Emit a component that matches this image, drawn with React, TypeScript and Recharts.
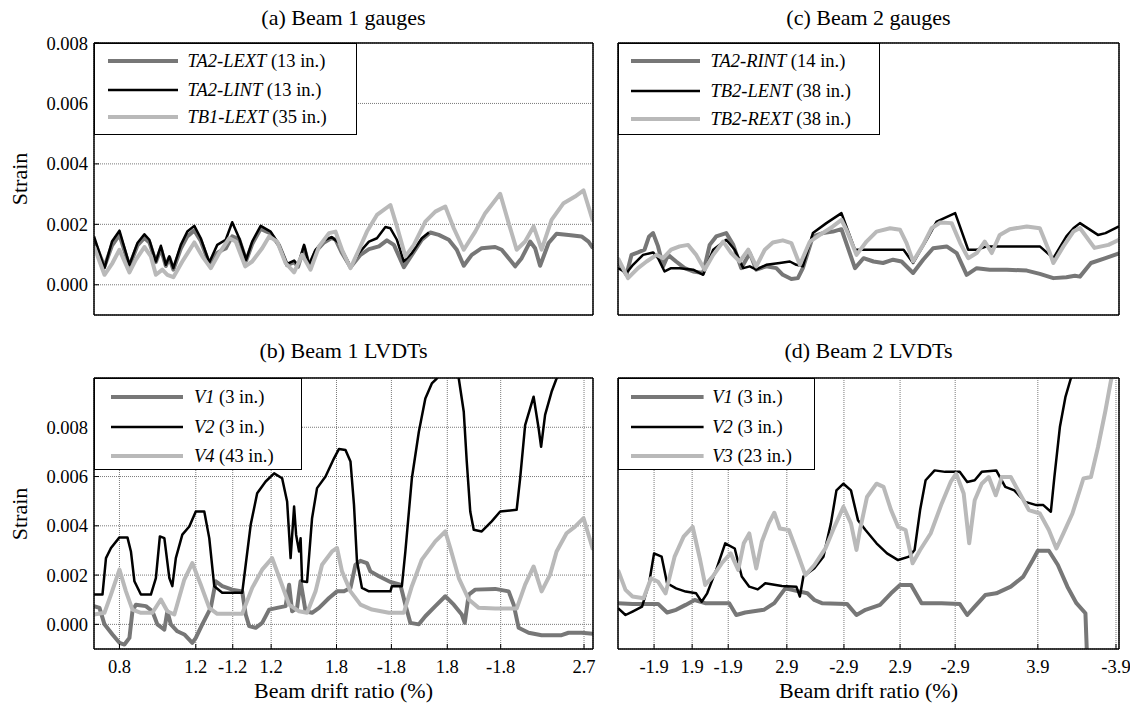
import React from 'react';
import { LineChart, Line, XAxis, YAxis, CartesianGrid } from 'recharts';

const FONT = "'Liberation Serif', 'Times New Roman', Times, serif";

// ---------- x axis: position along the loading record (0-100 %) ----------
const LEFT_X_TICKS = [5.1, 20.4, 27.8, 35.5, 48.6, 59.6, 70.8, 81.5, 98.2];
const LEFT_X_LABELS = ['0.8', '1.2', '-1.2', '1.2', '1.8', '-1.8', '1.8', '-1.8', '2.7'];
const RIGHT_X_TICKS = [7.2, 14.8, 22.0, 33.7, 45.1, 56.3, 67.3, 83.8, 99.4];
const RIGHT_X_LABELS = ['-1.9', '1.9', '-1.9', '2.9', '-2.9', '2.9', '-2.9', '3.9', '-3.9'];

// ---------- y axis (values in millistrain, labelled as strain) ----------
const GAUGE_Y_DOMAIN: [number, number] = [-1, 8];
const LVDT_Y_DOMAIN: [number, number] = [-1, 10];
const Y_TICKS = [0, 2, 4, 6, 8];

type Pt = [number, number];

// ---------- (a) Beam 1 gauges ----------
const A_TA2_LEXT: Pt[] = [[0,1.45],[2.1,0.6],[3.6,1.3],[5.1,1.65],[7.1,0.62],[8.7,1.3],[10.1,1.55],[11.1,1.4],[12.4,0.75],[13.4,1.2],[14.4,0.62],[15.1,0.9],[15.9,0.5],[17.4,1.2],[18.7,1.6],[20.1,1.8],[21.4,1.45],[23.1,0.7],[24.7,1.05],[25.7,1.15],[26.4,1.2],[27.7,1.6],[29.1,1.5],[30.5,0.8],[31.7,1.35],[33.4,1.85],[35.4,1.7],[37.1,1.3],[38.7,0.65],[40.1,0.75],[40.9,0.6],[42.1,1.25],[43.1,0.62],[44.4,1.1],[46.1,1.4],[47.6,1.55],[48.4,1.49],[49.7,1.05],[51.4,0.58],[53.4,0.99],[55.1,1.18],[57.1,1.27],[58.7,1.47],[60.1,1.32],[62.1,0.58],[63.7,0.99],[65.7,1.49],[67.4,1.73],[69.1,1.65],[71.1,1.49],[72.7,1.16],[74.1,0.63],[75.7,0.99],[77.7,1.21],[80.4,1.25],[81.7,1.16],[83.1,0.88],[84.4,0.61],[85.7,0.88],[87.4,1.43],[88.4,1.21],[89.4,0.63],[91.1,1.38],[92.7,1.69],[95.1,1.65],[97.7,1.6],[99.1,1.43],[100,1.21]];
const A_TA2_LINT: Pt[] = [[0,1.6],[2.1,0.55],[3.6,1.43],[5.1,1.79],[7.1,0.66],[8.7,1.38],[10.1,1.67],[11.1,1.49],[12.4,0.77],[13.4,1.29],[14.4,0.66],[15.1,0.94],[15.9,0.55],[17.4,1.32],[18.7,1.76],[20.1,1.95],[21.4,1.54],[23.1,0.74],[24.7,1.32],[26.4,1.49],[27.7,2.07],[29.1,1.54],[30.5,0.83],[31.7,1.43],[33.4,1.95],[35.4,1.76],[37.1,1.32],[38.7,0.69],[40.1,0.8],[40.9,0.63],[42.1,1.32],[43.1,0.66],[44.4,1.16],[46.1,1.47],[47.6,1.58],[49.1,1.38],[49.7,1.16],[51.4,0.61],[53.1,1.05],[55.1,1.43],[56.7,1.54],[58.4,1.91],[59.4,1.87],[60.7,1.49],[62.1,0.77],[63.7,1.05],[65.7,1.54],[67.1,1.73]];
const A_TB1_LEXT: Pt[] = [[0,1.27],[2.1,0.33],[3.7,0.72],[5.1,1.16],[7.1,0.41],[8.4,0.83],[10.1,1.25],[11.4,0.94],[12.4,0.33],[13.7,0.5],[14.7,0.33],[15.9,0.25],[17.7,0.77],[20.1,1.4],[21.7,0.94],[23.4,0.55],[25.1,1.05],[27.1,1.54],[28.4,1.43],[30.3,0.61],[31.7,0.77],[33.7,1.21],[35.1,1.6],[36.7,1.43],[38.4,0.72],[40.1,0.41],[41.7,0.99],[43.4,0.5],[45.1,1.27],[47.1,1.71],[48.4,1.76],[49.7,1.16],[51.4,0.55],[53.1,1.16],[54.7,1.76],[56.7,2.31],[59.4,2.64],[60.7,1.93],[62.4,0.94],[64.1,1.32],[66.4,2.09],[68.4,2.42],[70.4,2.59],[72.1,1.87],[74.1,1.16],[76.4,1.76],[78.4,2.37],[81.4,3.01],[83.1,2.04],[84.7,1.16],[86.4,1.43],[88.1,1.93],[89.7,1.16],[91.7,2.15],[94.1,2.7],[96.4,2.92],[98.1,3.12],[100,2.1]];

// ---------- (c) Beam 2 gauges ----------
const C_TA2_RINT: Pt[] = [[0,0.77],[1.7,0.33],[2.7,0.99],[4,1.07],[5.3,1.16],[6.2,1.6],[7,1.71],[8,1.27],[9,0.61],[10,0.99],[11.6,0.77],[13.3,0.55],[15,0.44],[17,0.39],[18.3,1.32],[19.6,1.6],[21.6,1.71],[23,1.32],[24.6,0.55],[26.3,1.05],[27.6,0.5],[29.6,0.61],[31.6,0.55],[32.9,0.33],[34.6,0.19],[35.9,0.22],[36.9,0.55],[38.9,1.6],[40.9,1.71],[42.9,1.76],[44.6,1.84],[47.3,0.55],[49,0.88],[51,0.77],[52.9,0.72],[54.9,0.83],[56.6,0.77],[58.9,0.39],[60.9,0.83],[62.9,1.21],[65.6,1.27],[67.6,1.05],[69.6,0.33],[71.6,0.55],[74.2,0.5],[77.6,0.5],[81.6,0.47],[84.2,0.36],[86.9,0.22],[89.5,0.25],[91.2,0.3],[92.2,0.27],[94.4,0.72],[97.3,0.88],[100,1.04]];
const C_TB2_LENT: Pt[] = [[0,0.55],[1.7,0.39],[3,0.66],[5,0.99],[7,1.07],[8,0.88],[9.3,0.44],[10.6,0.55],[12.3,0.55],[15,0.5],[17,0.33],[19,1.16],[21.6,1.49],[23.3,1.16],[25,0.55],[26.3,0.61],[27.6,0.5],[29.6,0.66],[32.3,0.72],[34.3,0.77],[35.6,0.66],[36.9,0.61],[38.9,1.71],[41.6,2.04],[44.6,2.37],[47.3,1.16],[49,1.16],[57,1.16],[58.9,0.72],[61.6,1.49],[63.6,2.09],[67.3,2.37],[69.9,1.16],[71.6,1.16],[73.6,1.27],[84.2,1.27],[86.9,0.88],[89.5,1.6],[90.9,1.87],[92.2,2.04],[95.8,1.65],[97.3,1.71],[100,1.93]];
const C_TB2_REXT: Pt[] = [[0,0.88],[2,0.22],[4,0.55],[5.7,0.77],[7.7,0.99],[9,0.88],[10.6,1.16],[12.3,1.27],[14,1.32],[15.6,0.99],[17.3,0.5],[19,0.99],[21,1.43],[22.6,1.05],[24.3,0.77],[26,1.16],[27.6,0.61],[29.3,1.16],[30.9,1.4],[32.9,1.47],[34.6,1.38],[36.3,0.66],[38.3,1.43],[40.3,1.65],[42.9,1.93],[44.6,2.15],[45.6,1.82],[47.6,0.99],[49.6,1.43],[51.6,1.76],[54.3,1.87],[56.3,1.82],[57.6,1.38],[58.9,0.77],[60.9,1.32],[62.6,1.87],[64.3,2.06],[66.6,2.04],[68.3,1.38],[69.9,0.88],[71.6,1.05],[73.2,1.43],[74.6,1.05],[76.2,1.65],[78.2,1.84],[81.6,1.93],[84.2,1.87],[86.2,1.05],[86.9,0.72],[88.9,1.27],[90.9,1.76],[92.2,1.88],[95.1,1.22],[97.9,1.32],[100,1.49]];

// ---------- (b) Beam 1 LVDTs ----------
const B_V1: Pt[] = [[0,0.74],[1.1,0.67],[2.1,0],[3.7,-0.41],[5.1,-0.75],[6.1,-0.82],[7.1,-0.55],[7.7,0.53],[8.4,0.8],[10.4,0.74],[11.7,0.53],[12.7,0],[14.1,-0.21],[14.7,0.53],[15.4,0],[16.7,-0.28],[18.1,-0.41],[19.7,-0.75],[20.4,-0.55],[21.7,0],[23.4,0.67],[24.4,1.75],[25.7,1.55],[27.7,1.41],[29.7,1.34],[30.4,0.4],[31.1,-0.07],[32.4,-0.14],[33.7,0.06],[35.1,0.6],[36.7,0.67],[38.4,0.74],[39.1,1.61],[39.7,0.53],[40.7,0.67],[41.4,1.75],[42.4,0.53],[43.7,0.47],[45.1,0.67],[47.1,1.07],[48.7,1.34],[50.1,1.34],[51.4,1.48],[52.4,2.42],[53.4,2.58],[54.7,2.49],[55.4,2.15],[57.1,1.95],[59.4,1.72],[61.4,1.61],[62.4,0.8],[63.4,0.06],[65.1,0],[66.4,0.33],[68.4,0.74],[70.4,1.14],[72.1,0.8],[73.7,0.4],[74.3,0.06],[75.1,1.21],[76.4,1.41],[80.4,1.44],[83.1,1.34],[84.1,0.8],[85.1,-0.14],[87.1,-0.34],[89.7,-0.44],[93.7,-0.44],[95.1,-0.34],[97.7,-0.34],[100,-0.38]];
const B_V2: Pt[] = [[0,1.21],[1.7,1.21],[2.4,2.69],[3.4,3.1],[5.1,3.53],[6.7,3.53],[7.4,2.96],[8.1,1.75],[9.4,1.21],[11.4,1.21],[12.4,1.88],[13.2,3.57],[14.1,3.5],[15.1,1.88],[15.7,1.55],[16.4,2.69],[17.7,3.64],[19.1,3.97],[20.4,4.58],[22.1,4.58],[23.1,3.5],[24.1,1.55],[25.7,1.28],[29.7,1.28],[30.4,2.42],[31.4,4.04],[32.7,5.32],[34.4,5.8],[36.1,6.13],[37.7,5.93],[38.7,4.99],[39.4,2.69],[40.1,4.78],[40.5,3.64],[41.1,2.96],[41.4,3.5],[41.7,1.75],[42.7,1.72],[43.7,4.31],[44.7,5.53],[46.4,6],[48.1,6.74],[49.1,7.12],[50.4,7.08],[51.4,6.61],[52.1,4.86],[52.7,2.56],[53.7,1.48],[55.1,1.34],[59.4,1.34],[59.7,1.55],[61.7,1.55],[62.4,2.96],[63.7,5.93],[65.1,7.82],[66.4,9.17],[67.7,9.78],[68.7,9.98],[69.5,10.6],[72.5,10.6],[73.1,9.98],[74.1,8.63],[74.7,6.61],[75.4,4.58],[76.1,3.84],[77.7,3.77],[79.7,4.18],[81.4,4.58],[84.7,4.65],[85.4,5.93],[86.4,8.09],[88.1,9.24],[89.1,7.96],[89.6,7.21],[90.4,8.5],[91.7,9.44],[92.7,9.98],[94,10.8]];
const B_V4: Pt[] = [[0,0.4],[2.1,0.47],[3.4,1.21],[5.1,2.22],[6.4,1.34],[7.7,0.6],[9.4,0.47],[11.7,0.47],[13.4,1.01],[14.7,0.53],[16.1,0.4],[18.1,1.82],[19.7,2.49],[21.4,1.61],[23.1,0.67],[24.7,0.43],[29.7,0.43],[31.7,1.48],[33.7,2.22],[35.7,2.69],[37.4,1.75],[39.1,0.8],[41.1,0.53],[42.7,0.47],[44.4,1.34],[45.7,2.42],[47.7,2.96],[48.7,3.1],[49.7,2.15],[51.4,1.34],[53.4,0.8],[55.7,0.6],[59.1,0.47],[62.1,0.47],[63.7,1.55],[65.7,2.63],[68.4,3.37],[70.4,3.77],[71.4,3.1],[73.1,1.88],[75.1,1.01],[77.1,0.67],[80.4,0.64],[84.7,0.64],[86.4,1.61],[88.1,2.35],[89.7,1.34],[91.4,2.02],[92.7,2.96],[94.7,3.7],[96.4,3.97],[98.1,4.31],[100,3.03]];

// ---------- (d) Beam 2 LVDTs ----------
const D_V1: Pt[] = [[0,0.86],[2.9,0.83],[8,0.83],[9.8,0.48],[11.6,0.59],[13.5,0.79],[15.3,0.99],[17.4,0.86],[22.2,0.86],[23.6,0.38],[25.4,0.48],[29.1,0.59],[31.2,0.86],[33.4,1.46],[35.6,1.36],[37.8,1.26],[39.2,0.99],[40.7,0.86],[45.7,0.83],[47.6,0.38],[49.4,0.59],[52.3,0.79],[54.5,1.26],[56.3,1.6],[58.5,1.6],[60.6,0.86],[64.6,0.86],[68.2,0.83],[69.7,0.38],[71.2,0.72],[73.3,1.19],[75.5,1.26],[78.4,1.53],[80.9,1.94],[82.8,2.61],[83.8,2.99],[86,2.99],[87.8,2.41],[89.7,1.53],[91.5,0.86],[93.3,0.45],[93.6,-1.2]];
const D_V2: Pt[] = [[0,0.66],[1.5,0.38],[2.9,0.52],[4.8,0.72],[6.2,1.67],[7.2,2.88],[8.7,2.75],[9.8,1.67],[11.6,1.46],[13.5,1.33],[15.6,1.26],[16.7,0.92],[17.8,1.26],[19.6,2.21],[21.4,3.29],[23.3,3.08],[24.7,1.94],[26.2,1.53],[27.9,1.42],[29.4,1.67],[32.7,1.56],[35.6,1.53],[36.3,1.13],[37,1.94],[39.2,2.28],[41,2.75],[42.5,4.1],[43.6,5.44],[45,5.71],[46.5,5.44],[47.9,4.23],[49.4,3.83],[51.6,3.29],[53.7,2.88],[55.9,2.61],[58.1,2.75],[59.2,3.02],[60.3,4.64],[61.4,5.85],[63.2,6.25],[65.3,6.19],[68.2,6.19],[69.7,5.78],[71.2,5.85],[72.6,6.19],[75.5,6.25],[77.3,5.58],[79.1,5.44],[81.3,4.97],[83.5,4.84],[84.9,4.84],[86.4,4.57],[87.1,5.98],[88.2,8.01],[89.3,9.22],[90.4,9.99],[91.5,11]];
const D_V3: Pt[] = [[0,2.21],[1.5,1.4],[2.9,1.13],[5.1,1.06],[6.6,1.87],[8,1.73],[9.5,1.26],[11.3,2.75],[13.1,3.56],[14.9,3.96],[16.4,2.61],[17.4,1.6],[18.9,1.94],[20.7,2.48],[22.5,2.88],[24,2.21],[25.1,3.29],[26.2,3.69],[27.6,2.27],[28.7,3.35],[30.1,4.1],[31.2,4.53],[32.3,3.89],[34.1,3.83],[35.6,3.02],[37.4,2],[39.2,2.41],[41.4,3.08],[43.2,3.96],[45,4.77],[46.5,4.1],[47.6,3.02],[48.3,3.83],[49.7,5.17],[51.6,5.71],[53,5.58],[54.5,4.64],[55.9,3.96],[57.4,3.83],[58.8,2.48],[60.3,3.02],[62.4,3.69],[64.6,4.9],[66.4,5.78],[67.5,6.12],[69,5.31],[70.1,3.29],[71.2,5.04],[72.6,5.71],[74,5.98],[75.4,5.24],[76.6,5.98],[78.4,5.98],[80.2,5.31],[82,4.64],[84.2,4.5],[86,3.83],[87.5,3.08],[88.9,3.69],[90.7,4.5],[92.9,5.92],[94.4,5.98],[95.8,7.19],[97.3,8.68],[98.4,9.9],[99.5,10.8]];

// ---------- styling ----------
const DARK = '#777777';
const BLACK = '#000000';
const LIGHT = '#b9b9b9';

type Series = { name: string; note: string; color: string; width: number; pts: Pt[] };
type Rect = { x: number; y: number; w: number; h: number };
type Plot = { l: number; t: number; r: number; b: number };
type LegendGeom = { w: number; x1: number; x2: number; tx: number; rows: number[] };

const toData = (pts: Pt[]) => pts.map(([x, y]) => ({ x, y }));
const fmtY = (v: number) => (v / 1000).toFixed(3);

const TICK_FS = 18.5;
const LEG_FS = 18.5;
const TITLE_FS = 22;
const tickStyle = { fontSize: TICK_FS, fill: '#000', fontFamily: FONT };
const axisLineStyle = { stroke: '#000', strokeWidth: 1.5 };
const tickLineStyle = { stroke: '#000', strokeWidth: 1 };

function LegendBox({ plot, geom, series }: { plot: Plot; geom: LegendGeom; series: Series[] }) {
  const h = 92;
  return (
    <div style={{ position: 'absolute', left: plot.l, top: plot.t, width: geom.w, height: h, border: '1.5px solid #000', boxSizing: 'border-box', background: '#fff' }}>
      <svg width={geom.w} height={h} style={{ position: 'absolute', left: -1.5, top: -1.5, overflow: 'visible' }}>
        {series.map((s, i) => (
          <line key={s.name} x1={geom.x1} x2={geom.x2} y1={geom.rows[i]} y2={geom.rows[i]} stroke={s.color} strokeWidth={s.width} />
        ))}
      </svg>
      {series.map((s, i) => (
        <div key={s.name} style={{ position: 'absolute', left: geom.tx - 1.5, top: geom.rows[i] + 1 - 0.5065 * LEG_FS - 1.5, fontSize: LEG_FS, lineHeight: 1, whiteSpace: 'nowrap', fontFamily: FONT, color: '#000' }}>
          <i>{s.name}</i>{' '}{s.note}
        </div>
      ))}
    </div>
  );
}

function Panel(props: {
  chart: Rect; plot: Plot; yDomain: [number, number]; yLabels: boolean;
  xTicks: number[]; xLabels: string[]; showXLabels: boolean; series: Series[];
  legend: LegendGeom; title: string; titleTop: number;
}) {
  const { chart, plot, yDomain, yLabels, xTicks, xLabels, showXLabels, series, legend, title, titleTop } = props;
  const leftW = yLabels ? 60 : 10;
  const bottomH = 20;
  const margin = {
    left: plot.l - chart.x - leftW,
    right: chart.x + chart.w - plot.r - 1,
    top: plot.t - chart.y - 1,
    bottom: chart.y + chart.h - plot.b - bottomH,
  };
  const cx = (plot.l + plot.r) / 2;
  return (
    <>
      <div style={{ position: 'absolute', left: chart.x, top: chart.y, width: chart.w, height: chart.h }}>
        <LineChart width={chart.w} height={chart.h} margin={margin} style={{ fontFamily: FONT }}>
          <CartesianGrid stroke="#7a7a7a" strokeDasharray="1 1" strokeWidth={1} />
          <XAxis dataKey="x" type="number" domain={[0, 100]} ticks={xTicks} interval={0} allowDataOverflow
            height={bottomH} orientation="bottom" tickSize={-5} tickMargin={16}
            tick={showXLabels ? tickStyle : false}
            tickFormatter={(v: number) => xLabels[xTicks.indexOf(v)] ?? ''}
            axisLine={axisLineStyle} tickLine={tickLineStyle} />
          <XAxis xAxisId="top" dataKey="x" type="number" domain={[0, 100]} ticks={xTicks} interval={0} allowDataOverflow
            height={1} orientation="top" tickSize={-5} tick={false} axisLine={axisLineStyle} tickLine={tickLineStyle} />
          <YAxis type="number" domain={yDomain} ticks={Y_TICKS} interval={0} allowDataOverflow width={leftW}
            orientation="left" tickSize={-5} tickMargin={11}
            tick={yLabels ? tickStyle : false} tickFormatter={fmtY}
            axisLine={axisLineStyle} tickLine={tickLineStyle} />
          <YAxis yAxisId="right" type="number" domain={yDomain} ticks={Y_TICKS} interval={0} allowDataOverflow width={1}
            orientation="right" tickSize={-5} tick={false} axisLine={axisLineStyle} tickLine={tickLineStyle} />
          {series.map((s) => (
            <Line key={s.name} data={toData(s.pts)} dataKey="y" type="linear" stroke={s.color} strokeWidth={s.width}
              dot={false} activeDot={false} isAnimationActive={false} strokeLinejoin="round" strokeLinecap="butt" />
          ))}
        </LineChart>
      </div>
      <LegendBox plot={plot} geom={legend} series={series} />
      <div style={{ position: 'absolute', left: cx - 200, width: 400, top: titleTop, textAlign: 'center', fontSize: TITLE_FS, lineHeight: 1, fontFamily: FONT, color: '#000' }}>
        {title}
      </div>
    </>
  );
}

const SERIES_A: Series[] = [
  { name: 'TA2-LEXT', note: '(13 in.)', color: DARK, width: 4, pts: A_TA2_LEXT },
  { name: 'TA2-LINT', note: '(13 in.)', color: BLACK, width: 2.5, pts: A_TA2_LINT },
  { name: 'TB1-LEXT', note: '(35 in.)', color: LIGHT, width: 4, pts: A_TB1_LEXT },
];
const SERIES_C: Series[] = [
  { name: 'TA2-RINT', note: '(14 in.)', color: DARK, width: 4, pts: C_TA2_RINT },
  { name: 'TB2-LENT', note: '(38 in.)', color: BLACK, width: 2.5, pts: C_TB2_LENT },
  { name: 'TB2-REXT', note: '(38 in.)', color: LIGHT, width: 4, pts: C_TB2_REXT },
];
const SERIES_B: Series[] = [
  { name: 'V1', note: '(3 in.)', color: DARK, width: 4, pts: B_V1 },
  { name: 'V2', note: '(3 in.)', color: BLACK, width: 2.5, pts: B_V2 },
  { name: 'V4', note: '(43 in.)', color: LIGHT, width: 4, pts: B_V4 },
];
const SERIES_D: Series[] = [
  { name: 'V1', note: '(3 in.)', color: DARK, width: 4, pts: D_V1 },
  { name: 'V2', note: '(3 in.)', color: BLACK, width: 2.5, pts: D_V2 },
  { name: 'V3', note: '(23 in.)', color: LIGHT, width: 4, pts: D_V3 },
];

const PLOT_A: Plot = { l: 94, t: 43, r: 593, b: 315 };
const PLOT_B: Plot = { l: 94, t: 378, r: 593, b: 649 };
const PLOT_C: Plot = { l: 618, t: 43, r: 1119, b: 315 };
const PLOT_D: Plot = { l: 618, t: 378, r: 1119, b: 649 };

function AxisTitleX({ plot, baseline }: { plot: Plot; baseline: number }) {
  const cx = (plot.l + plot.r) / 2;
  // compact line box (0.8em) so the text box does not reach up into the tick labels
  const top = baseline - 0.7375 * TITLE_FS;
  return (
    <div style={{ position: 'absolute', left: cx - 200, width: 400, top, textAlign: 'center', fontSize: TITLE_FS, lineHeight: 0.8, fontFamily: FONT, color: '#000' }}>
      Beam drift ratio (%)
    </div>
  );
}
function AxisTitleY({ cx, cy }: { cx: number; cy: number }) {
  return (
    <div style={{ position: 'absolute', left: cx - 50, top: cy - 13, width: 100, height: 26, lineHeight: '26px', textAlign: 'center', fontSize: TITLE_FS, fontFamily: FONT, color: '#000', transform: 'rotate(-90deg)' }}>
      Strain
    </div>
  );
}

export default function App() {
  return (
    <div style={{ position: 'absolute', left: 0, top: 0, width: 1130, height: 709, background: '#fff', overflow: 'hidden' }}>
      <Panel chart={{ x: 0, y: 0, w: 600, h: 340 }} plot={PLOT_A} yDomain={GAUGE_Y_DOMAIN} yLabels
        xTicks={LEFT_X_TICKS} xLabels={LEFT_X_LABELS} showXLabels={false} series={SERIES_A}
        legend={{ w: 263, x1: 14, x2: 84, tx: 94, rows: [18, 47, 74] }} title="(a) Beam 1 gauges" titleTop={7} />
      <Panel chart={{ x: 600, y: 0, w: 530, h: 340 }} plot={PLOT_C} yDomain={GAUGE_Y_DOMAIN} yLabels={false}
        xTicks={RIGHT_X_TICKS} xLabels={RIGHT_X_LABELS} showXLabels={false} series={SERIES_C}
        legend={{ w: 262, x1: 13, x2: 82, tx: 93, rows: [18, 48, 76] }} title="(c) Beam 2 gauges" titleTop={7} />
      <Panel chart={{ x: 0, y: 340, w: 600, h: 369 }} plot={PLOT_B} yDomain={LVDT_Y_DOMAIN} yLabels
        xTicks={LEFT_X_TICKS} xLabels={LEFT_X_LABELS} showXLabels series={SERIES_B}
        legend={{ w: 207.5, x1: 17, x2: 89, tx: 100.4, rows: [19, 49, 78] }} title="(b) Beam 1 LVDTs" titleTop={340} />
      <Panel chart={{ x: 600, y: 340, w: 530, h: 369 }} plot={PLOT_D} yDomain={LVDT_Y_DOMAIN} yLabels={false}
        xTicks={RIGHT_X_TICKS} xLabels={RIGHT_X_LABELS} showXLabels series={SERIES_D}
        legend={{ w: 196.5, x1: 13, x2: 85.6, tx: 94.7, rows: [19, 49, 78] }} title="(d) Beam 2 LVDTs" titleTop={340} />
      <AxisTitleY cx={20} cy={179} />
      <AxisTitleY cx={20} cy={513.5} />
      <AxisTitleX plot={PLOT_B} baseline={698} />
      <AxisTitleX plot={PLOT_D} baseline={698} />
    </div>
  );
}
